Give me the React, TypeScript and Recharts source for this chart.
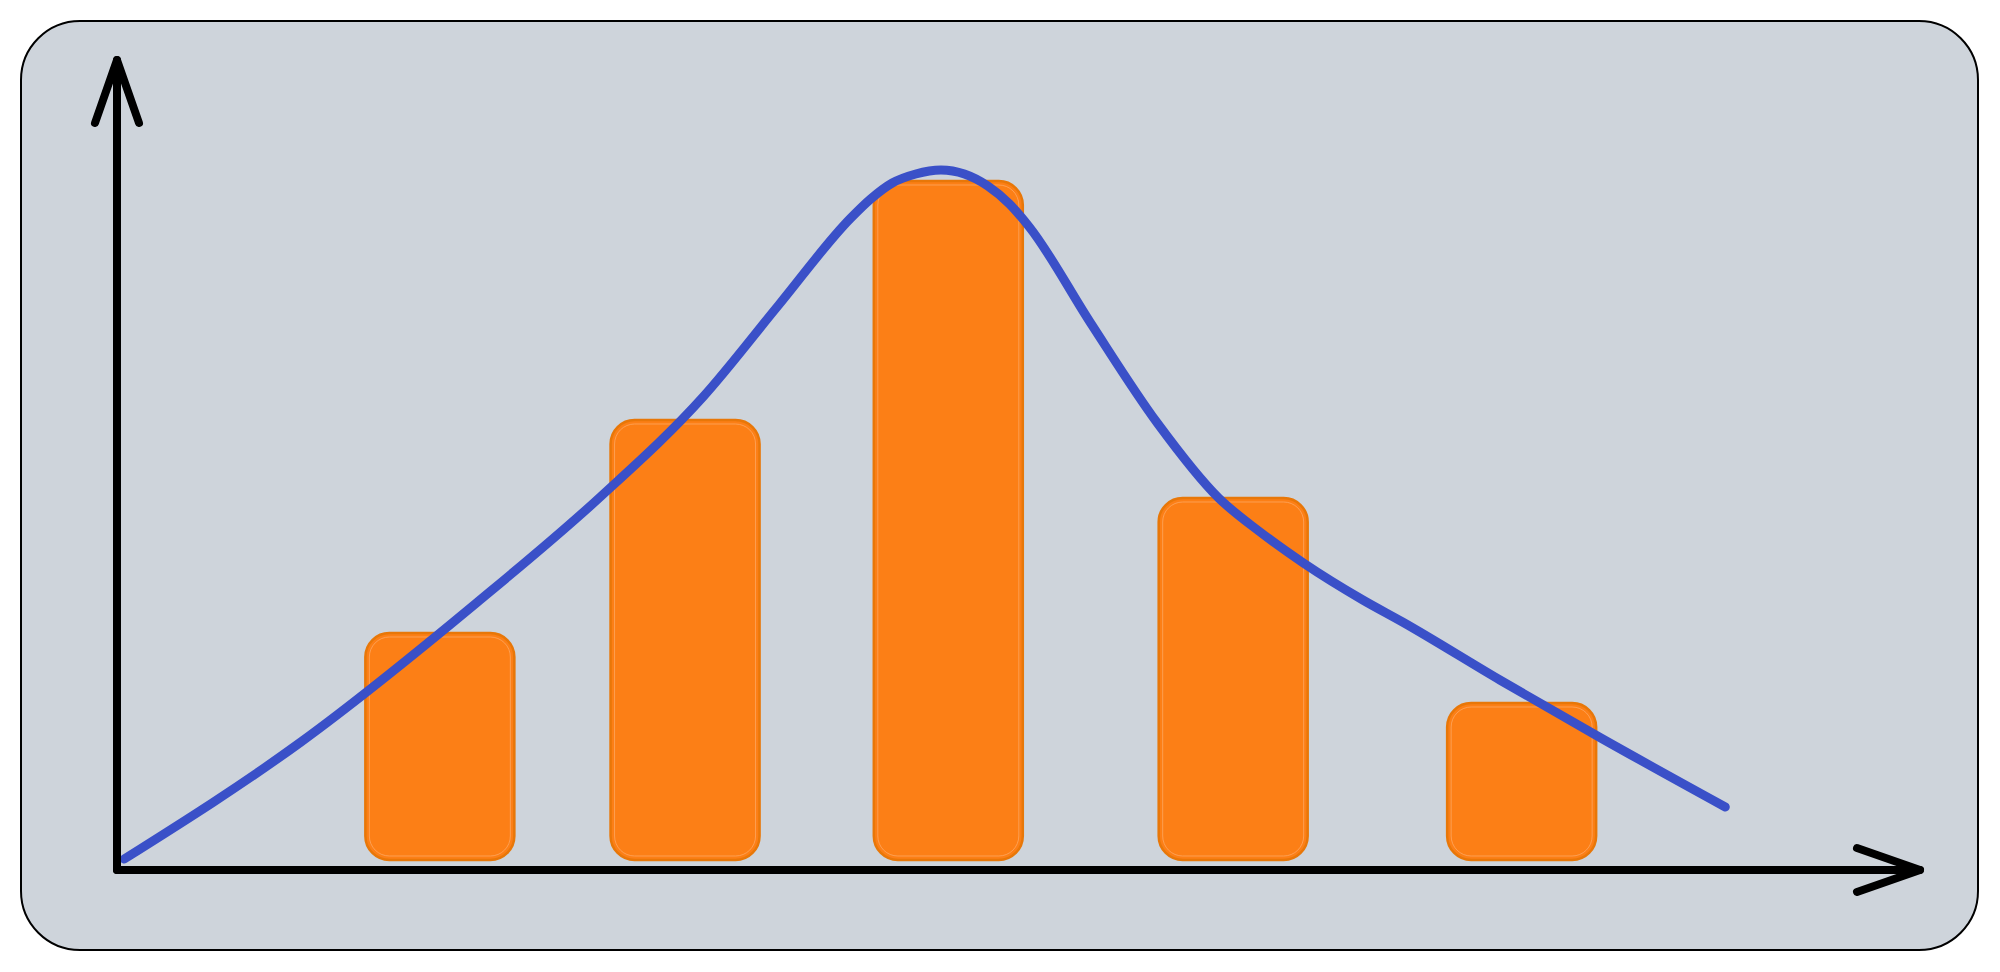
import React from 'react';
import { ComposedChart, Bar, Line, XAxis, YAxis } from 'recharts';

// bar positions (x) and heights
const barX = [17.9, 31.5, 46.1, 61.9, 77.9];
const barHeight = [22.7, 44.0, 67.9, 36.2, 15.7];

// blue density curve, sampled along the stroke
const curveX = [
  0.4, 10.2, 20.0, 26.8, 32.5, 36.7, 40.7, 41.8, 43.0, 44.3, 45.7, 47.0, 48.3,
  49.5, 50.6, 54.0, 57.7, 61.1, 63.4, 65.8, 69.1, 71.3, 76.7, 82.3, 89.2,
];
const curveY = [
  0.1, 11.8, 25.8, 36.3, 46.3, 55.5, 64.2, 66.1, 67.7, 68.6, 69.0, 68.6, 67.4,
  65.6, 63.3, 53.7, 43.7, 36.2, 32.8, 29.7, 26.0, 23.8, 18.0, 12.2, 5.3,
];

const barData = barX.map((x, i) => ({ x, value: barHeight[i] }));
const curveData = curveX.map((x, i) => ({ x, density: curveY[i] }));

const W = 2000;
const H = 972;
const BAR_W = 149;

const SketchBar = (props: any) => {
  const { x, y, width, height, fill, stroke } = props;
  if (height == null || height <= 0) return null;
  const cx = x + width / 2;
  return (
    <g>
      <rect
        x={cx - BAR_W / 2}
        y={y}
        width={BAR_W}
        height={height}
        rx={24}
        ry={24}
        fill={fill}
        stroke={stroke}
        strokeWidth={2.5}
      />
      <rect
        x={cx - BAR_W / 2 + 4}
        y={y + 4}
        width={BAR_W - 8}
        height={height - 8}
        rx={20}
        ry={20}
        fill="none"
        stroke="#fdb47a"
        strokeWidth={1}
        strokeOpacity={0.6}
      />
    </g>
  );
};

export default function App() {
  return (
    <div style={{ position: 'absolute', left: 0, top: 0, width: W, height: H, background: '#fff' }}>
      <svg width={0} height={0} style={{ position: 'absolute' }}>
        <defs>
          <marker
            id="arrowHead"
            markerUnits="userSpaceOnUse"
            viewBox="0 0 80 60"
            markerWidth={80}
            markerHeight={60}
            refX={70}
            refY={30}
            orient="auto-start-reverse"
          >
            <path
              d="M 7 8 L 70 30 L 7 52"
              fill="none"
              stroke="#000"
              strokeWidth={8}
              strokeLinecap="round"
              strokeLinejoin="round"
            />
          </marker>
        </defs>
      </svg>

      <div
        style={{
          position: 'absolute',
          left: 20,
          top: 20,
          width: 1959,
          height: 931,
          boxSizing: 'border-box',
          background: '#ced4db',
          border: '2.5px solid #000',
          borderRadius: 60,
        }}
      />

      <div style={{ position: 'absolute', left: 0, top: 0 }}>
        <ComposedChart
          width={W}
          height={H}
          data={barData}
          margin={{ top: 60, right: 80, bottom: 101, left: 116 }}
        >
          <XAxis
            type="number"
            dataKey="x"
            domain={[0, 100]}
            ticks={[0, 100]}
            allowDataOverflow
            height={1}
            tick={false}
            tickLine={false}
            axisLine={{ stroke: '#000', strokeWidth: 8, strokeLinecap: 'round', markerEnd: 'url(#arrowHead)' }}
          />
          <YAxis
            type="number"
            domain={[-1, 80]}
            allowDataOverflow
            width={1}
            tick={false}
            tickLine={false}
            axisLine={{ stroke: '#000', strokeWidth: 8, strokeLinecap: 'round', markerStart: 'url(#arrowHead)' }}
          />
          <Bar
            dataKey="value"
            fill="#fc7f16"
            stroke="#e87708"
            shape={<SketchBar />}
            isAnimationActive={false}
          />
          <Line
            data={curveData}
            dataKey="density"
            type="monotone"
            stroke="#3a50c8"
            strokeWidth={9}
            strokeLinecap="round"
            dot={false}
            activeDot={false}
            isAnimationActive={false}
          />
        </ComposedChart>
      </div>
    </div>
  );
}
